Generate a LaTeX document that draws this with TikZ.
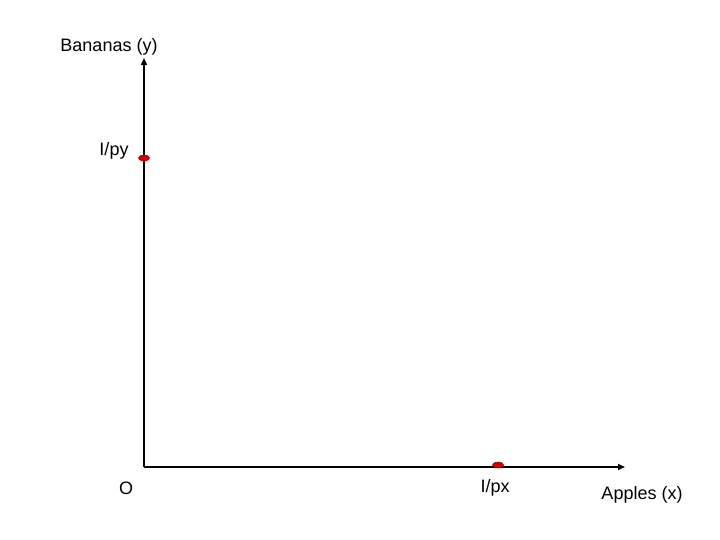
\documentclass[tikz,border=0pt]{standalone}
\usepackage{fontspec}
\setmainfont{Liberation Sans}
\usetikzlibrary{arrows.meta,shapes.geometric}
\begin{document}
\begin{tikzpicture}[x=1pt,y=-1pt,
  axis/.style={line width=1.8pt,-{Triangle[length=7pt,width=6pt]}},
  lbl/.style={font=\fontsize{18}{21}\selectfont,inner sep=0pt},
  marker/.style={ellipse,draw=red!60!black,fill=red!85!black,line width=0.6pt,minimum width=11pt,minimum height=6pt,inner sep=0pt}]
\useasboundingbox (0,0) rectangle (720,540);
\coordinate (O) at (144,467);
\coordinate (ytop) at (144,58);
\coordinate (xend) at (625,467);
\draw[axis] (O) -- (ytop);
\draw[axis] (O) -- (xend);
\node[marker] (py) at (144,158) {};
\node[marker] (px) at (498,465) {};
\node[lbl] (ylab) at (109,47) {Bananas (y)};
\node[lbl] (pylab) at (114,151) {I/py};
\node[lbl] (olab) at (126,488) {O};
\node[lbl] (pxlab) at (495,488) {I/px};
\node[lbl] (xlab) at (642,495) {Apples (x)};
\end{tikzpicture}
\end{document}
